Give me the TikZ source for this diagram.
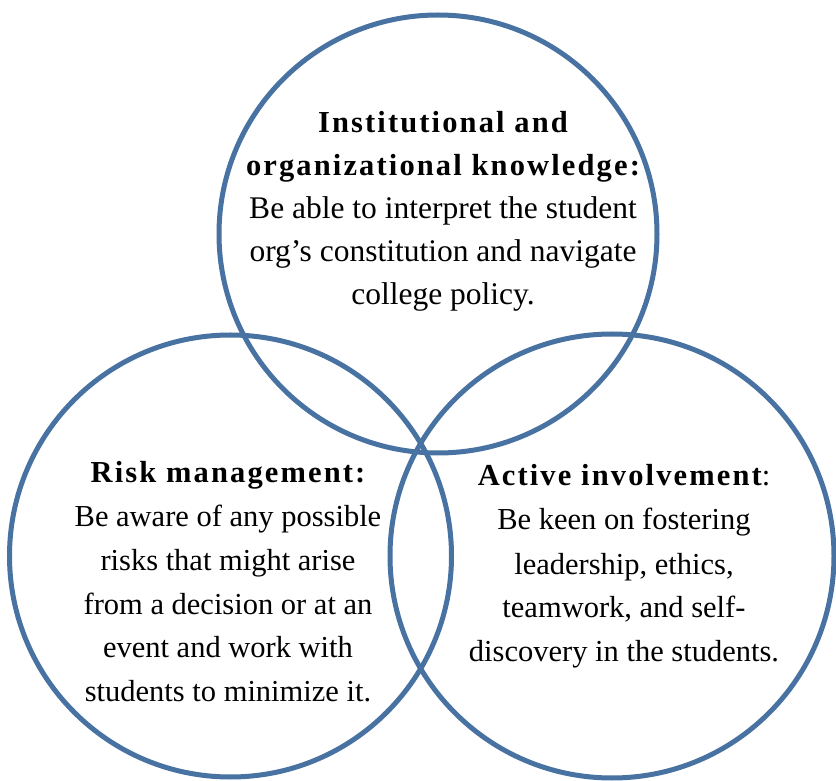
\documentclass[tikz,border=0pt]{standalone}
\usepackage{fontspec}
\setmainfont{Liberation Serif}
\newfontfamily\headfont[LetterSpace=7]{Liberation Serif}
\usetikzlibrary{positioning,calc}
\definecolor{ringblue}{RGB}{72,114,161}

\begin{document}
\begin{tikzpicture}[x=1pt,y=1pt,
	ring/.style={circle, draw=ringblue, line width=5pt, minimum size=442pt, inner sep=0pt},
	blurb/.style={align=center, text=black, inner sep=0pt, anchor=base}]
	
	\useasboundingbox (0,0) rectangle (836,780);
	
	% Circles
	\node[ring, minimum size=438pt] (ring1) at (438,546) {};
	\node[ring] (ring2) at (230.5,224) {};
	\node[ring, minimum size=444pt] (ring3) at (612,224) {};
	
	% Texts (anchored at the last baseline)
	\node[blurb, font=\fontsize{31.5}{43}\selectfont] (text1) at (443,475)
	{{\headfont\bfseries\fontsize{30.5}{43}\selectfont Institutional and}\\
		{\headfont\bfseries\fontsize{30.5}{43}\selectfont organizational knowledge:}\\
		Be able to interpret the student\\
		org’s constitution and navigate\\
		college policy.};
	
	\node[blurb, font=\fontsize{30.5}{44}\selectfont] (text2) at (228,78)
	{{\headfont\bfseries Risk management:}\\
		Be aware of any possible\\
		risks that might arise\\
		from a decision or at an\\
		event and work with\\
		students to minimize it.};
	
	\node[blurb, font=\fontsize{30.5}{44}\selectfont] (text3) at (624,118)
	{{\headfont\bfseries Active involvement}:\\
		Be keen on fostering\\
		leadership, ethics,\\
		teamwork, and self-\\
		discovery in the students.};
	
\end{tikzpicture}
\end{document}
